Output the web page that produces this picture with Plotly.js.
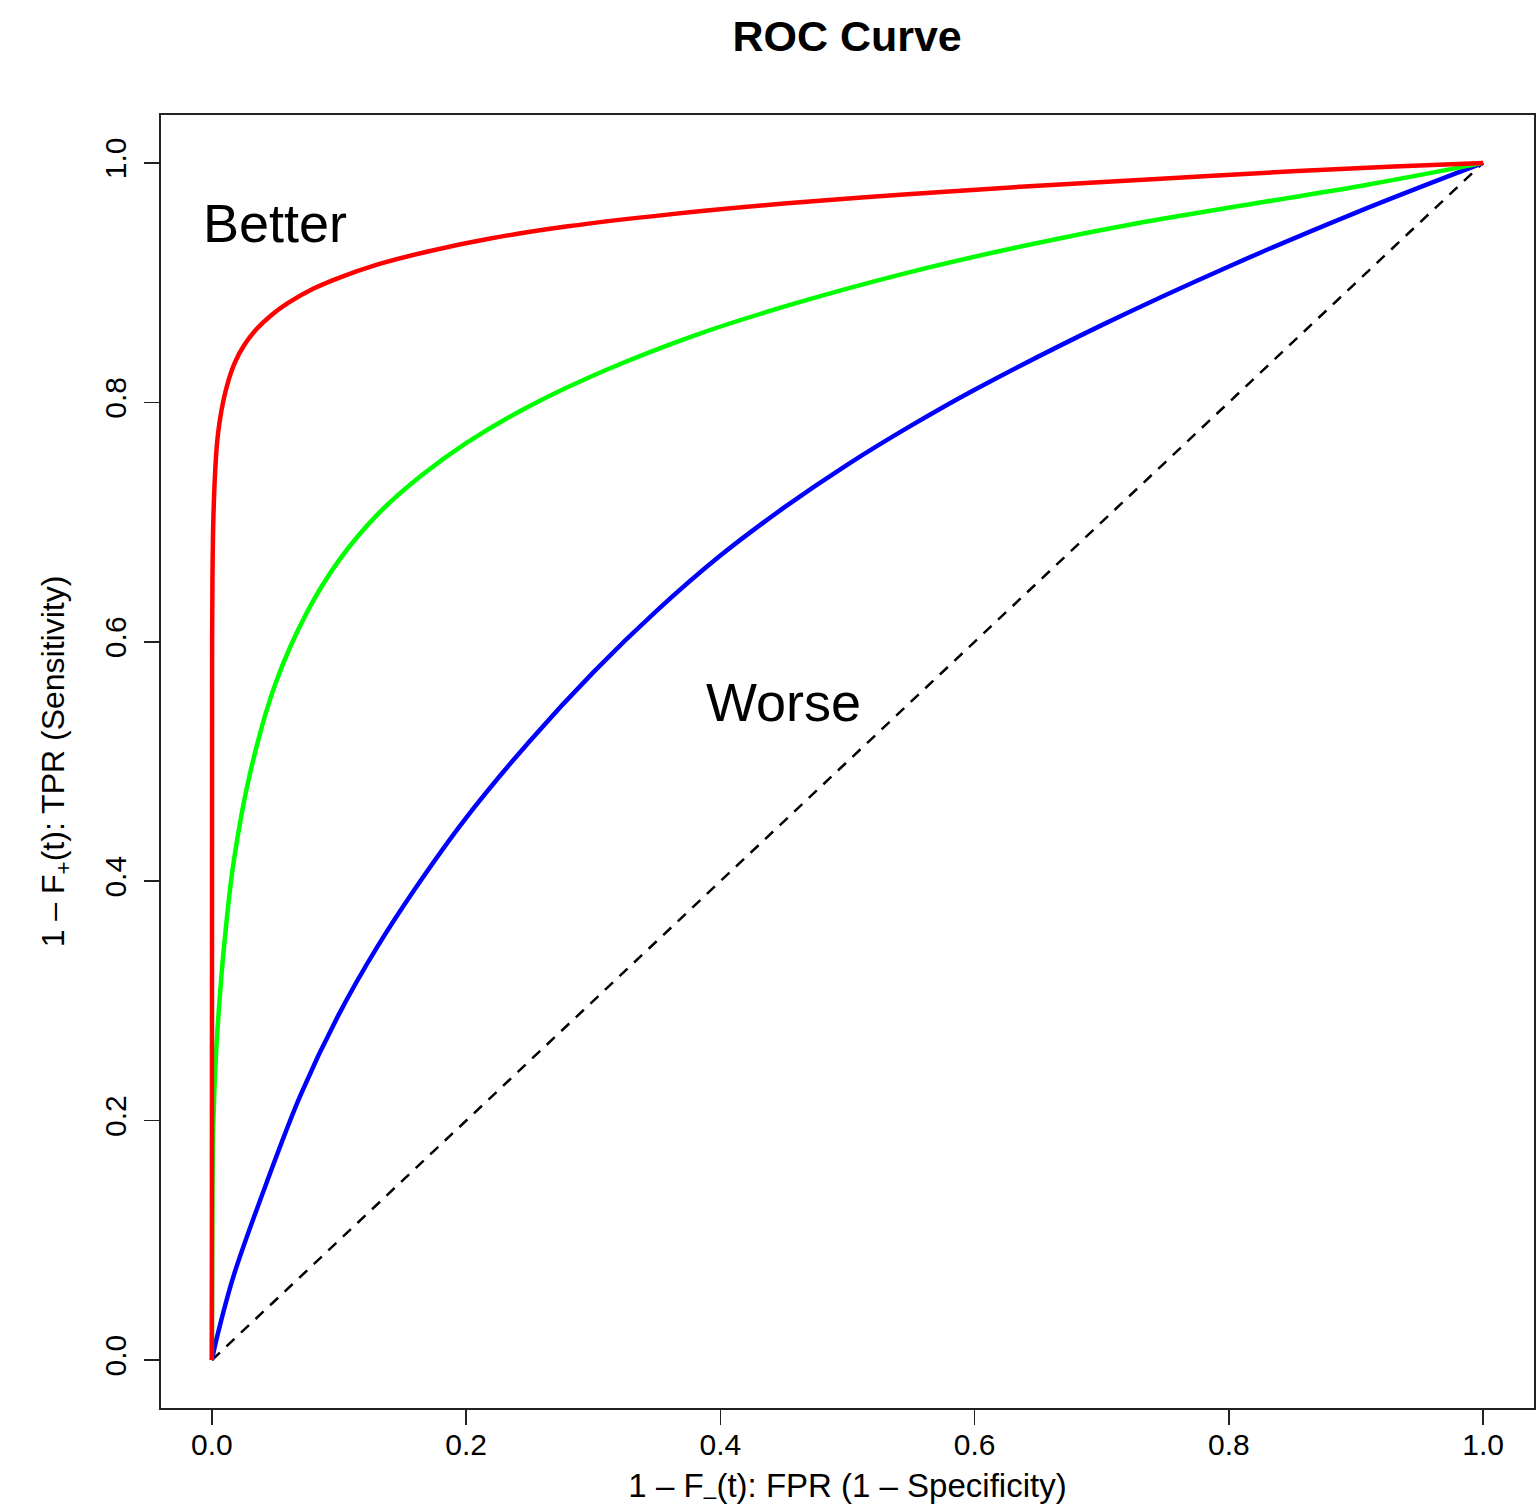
<!DOCTYPE html>
<html>
<head>
<meta charset="utf-8">
<script src="https://cdn.plot.ly/plotly-3.0.1.min.js"></script>
<style>
  html, body { margin: 0; padding: 0; background: #fff; }
  #chart { width: 1536px; height: 1509px; }
</style>
</head>
<body>
<div id="chart"></div>
<script>
// Values
const diagFPR = [0, 1];
const diagTPR = [0, 1];

const redFPR = [0, 0.0002, 0.0006, 0.0012, 0.0024, 0.004, 0.006, 0.009, 0.013, 0.018, 0.025, 0.035, 0.047, 0.06, 0.08, 0.1, 0.13, 0.17, 0.22, 0.28, 0.36, 0.45, 0.55, 0.65, 0.75, 0.85, 0.93, 1.0];
const redTPR = [0, 0.6, 0.665, 0.703, 0.738, 0.765, 0.783, 0.801, 0.818, 0.833, 0.847, 0.861, 0.873, 0.883, 0.895, 0.904, 0.915, 0.926, 0.937, 0.947, 0.957, 0.966, 0.974, 0.981, 0.987, 0.993, 0.997, 1.0];

const greenFPR = [0, 0.0005, 0.001, 0.003, 0.006, 0.01, 0.017, 0.03, 0.05, 0.075, 0.1, 0.13, 0.165, 0.2, 0.25, 0.31, 0.38, 0.46, 0.55, 0.64, 0.73, 0.82, 0.91, 1.0];
const greenTPR = [0, 0.14, 0.19, 0.25, 0.30, 0.35, 0.415, 0.49, 0.565, 0.625, 0.668, 0.706, 0.739, 0.766, 0.797, 0.827, 0.856, 0.883, 0.909, 0.931, 0.950, 0.966, 0.982, 1.0];

const blueFPR = [0, 0.004, 0.017, 0.043, 0.07, 0.1, 0.13, 0.16, 0.2, 0.25, 0.3, 0.35, 0.4, 0.45, 0.5, 0.55, 0.6, 0.7, 0.8, 0.9, 1.0];
const blueTPR = [0, 0.019, 0.07, 0.148, 0.222, 0.289, 0.345, 0.394, 0.453, 0.517, 0.5745, 0.626, 0.672, 0.712, 0.748, 0.7805, 0.8105, 0.8645, 0.9135, 0.9585, 1.0];

const tickVals = [0, 0.2, 0.4, 0.6, 0.8, 1.0];
const tickText = ["0.0", "0.2", "0.4", "0.6", "0.8", "1.0"];

const labels = [
  {text: "Better", x: 0.05, y: 0.95},
  {text: "Worse", x: 0.45, y: 0.55}
];

const FONT = "Liberation Sans, Arial, Helvetica, sans-serif";

const traces = [
  {x: diagFPR, y: diagTPR, mode: "lines", line: {color: "#000", width: 2.5, dash: "11px,9px"}, hoverinfo: "skip"},
  {x: blueFPR, y: blueTPR, mode: "lines", line: {color: "#0000ff", width: 4.5, shape: "spline", smoothing: 1}},
  {x: greenFPR, y: greenTPR, mode: "lines", line: {color: "#00ff00", width: 4.5, shape: "spline", smoothing: 1}},
  {x: redFPR, y: redTPR, mode: "lines", line: {color: "#ff0000", width: 4.5, shape: "spline", smoothing: 1}}
];

const axisCommon = {
  range: [-0.04, 1.04],
  showgrid: false,
  zeroline: false,
  showline: true,
  mirror: true,
  linecolor: "#222",
  linewidth: 2,
  ticks: "outside",
  ticklen: 15,
  tickwidth: 1.5,
  tickcolor: "#222",
  tickvals: tickVals,
  ticktext: tickText,
  tickfont: {family: FONT, size: 30, color: "#000"}
};

const layout = {
  width: 1536,
  height: 1509,
  paper_bgcolor: "#fff",
  plot_bgcolor: "#fff",
  showlegend: false,
  margin: {l: 161, r: 2, t: 115, b: 101},
  title: {
    text: "<b>ROC Curve</b>",
    font: {family: FONT, size: 43, color: "#000"},
    x: 0.5515, xanchor: "center",
    y: 0.976, yanchor: "middle"
  },
  xaxis: Object.assign({}, axisCommon, {
    title: {text: "1 – F<sub>–</sub>(t): FPR (1 – Specificity)", font: {family: FONT, size: 33, color: "#000"}, standoff: 18},
    ticklabelstandoff: -6
  }),
  yaxis: Object.assign({}, axisCommon, {
    tickangle: -90,
    title: {text: "1 – F<sub>+</sub>(t): TPR (Sensitivity)", font: {family: FONT, size: 32, color: "#000"}, standoff: 25},
    ticklabelstandoff: 6
  }),
  annotations: labels.map(l => ({
    text: l.text, x: l.x, y: l.y, xref: "x", yref: "y",
    showarrow: false, xanchor: "center", yanchor: "middle",
    font: {family: FONT, size: 54, color: "#000"}
  }))
};

Plotly.newPlot("chart", traces, layout, {staticPlot: true, displayModeBar: false});
</script>
</body>
</html>
